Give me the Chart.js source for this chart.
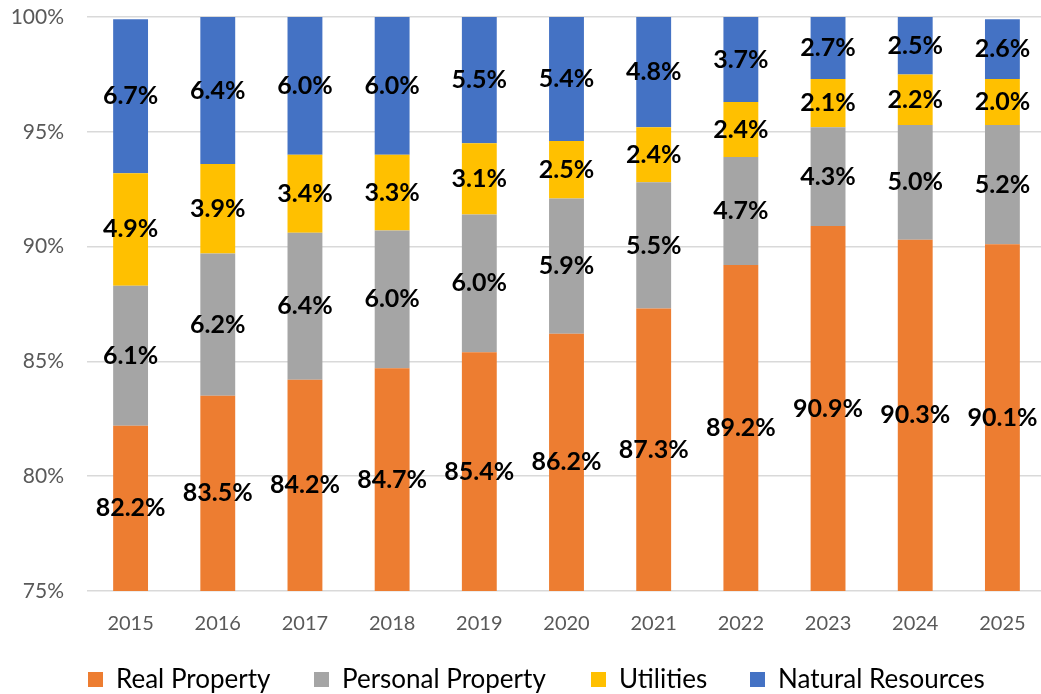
<!DOCTYPE html>
<html>
<head>
<meta charset="utf-8">
<script src="https://cdn.jsdelivr.net/npm/chart.js@4/dist/chart.umd.min.js"></script>
<style>
  html, body { margin: 0; padding: 0; background: #fff; overflow: hidden; }
  #wrap { width: 1050px; height: 694px; }
</style>
</head>
<body>
<div id="wrap"><canvas id="chart" width="1050" height="694"></canvas></div>
<script>
const years = ['2015', '2016', '2017', '2018', '2019', '2020', '2021', '2022', '2023', '2024', '2025'];
const realProperty = [82.2, 83.5, 84.2, 84.7, 85.4, 86.2, 87.3, 89.2, 90.9, 90.3, 90.1];
const personalProperty = [6.1, 6.2, 6.4, 6.0, 6.0, 5.9, 5.5, 4.7, 4.3, 5.0, 5.2];
const utilities = [4.9, 3.9, 3.4, 3.3, 3.1, 2.5, 2.4, 2.4, 2.1, 2.2, 2.0];
const naturalResources = [6.7, 6.4, 6.0, 6.0, 5.5, 5.4, 4.8, 3.7, 2.7, 2.5, 2.6];
const yTicks = [75, 80, 85, 90, 95, 100];

const FONT = 'Lato, "Open Sans", sans-serif';

// values drawn in the middle of the visible part of each segment
const barLabels = {
  id: 'barLabels',
  afterDatasetsDraw(chart) {
    const { ctx, chartArea } = chart;
    ctx.save();
    ctx.font = 'bold 25px ' + FONT;
    ctx.fillStyle = '#000';
    ctx.textAlign = 'center';
    ctx.textBaseline = 'middle';
    chart.data.datasets.forEach((ds, i) => {
      const meta = chart.getDatasetMeta(i);
      meta.data.forEach((bar, j) => {
        const { x, y, base } = bar.getProps(['x', 'y', 'base'], true);
        const top = Math.max(Math.min(y, base), chartArea.top);
        const bottom = Math.min(Math.max(y, base), chartArea.bottom);
        ctx.fillText(ds.data[j].toFixed(1) + '%', x, (top + bottom) / 2);
      });
    });
    ctx.restore();
  }
};

// legend row along the bottom, laid out like the original
const bottomLegend = {
  id: 'bottomLegend',
  afterDraw(chart) {
    const { ctx } = chart;
    const xs = [88, 314, 591, 750];
    const cy = 679.5;
    ctx.save();
    ctx.font = '26px ' + FONT;
    ctx.textBaseline = 'middle';
    chart.data.datasets.forEach((ds, i) => {
      ctx.fillStyle = ds.backgroundColor;
      ctx.fillRect(xs[i], cy - 7.5, 15, 15);
      ctx.fillStyle = '#000';
      ctx.fillText(ds.label, xs[i] + 28, cy);
    });
    ctx.restore();
  }
};

new Chart(document.getElementById('chart'), {
  type: 'bar',
  data: {
    labels: years,
    datasets: [
      { label: 'Real Property', data: realProperty, backgroundColor: '#ED7D31' },
      { label: 'Personal Property', data: personalProperty, backgroundColor: '#A5A5A5' },
      { label: 'Utilities', data: utilities, backgroundColor: '#FFC000' },
      { label: 'Natural Resources', data: naturalResources, backgroundColor: '#4472C4' }
    ]
  },
  options: {
    responsive: false,
    animation: false,
    layout: { padding: { left: 0, right: 4, top: 0, bottom: 37 } },
    datasets: { bar: { categoryPercentage: 1, barPercentage: 0.4 } },
    scales: {
      x: {
        stacked: true,
        grid: { display: false, drawTicks: false },
        border: { display: false },
        ticks: { color: '#595959', font: { family: FONT, size: 20 }, padding: 21 }
      },
      y: {
        stacked: true,
        min: 75,
        max: 100,
        afterFit(scale) {
          scale.width = 87;
          scale.paddingTop = 17;
          scale.paddingBottom = 0;
        },
        afterBuildTicks(scale) { scale.ticks = yTicks.map(v => ({ value: v })); },
        grid: { color: '#D9D9D9', lineWidth: 1.5, drawTicks: false },
        border: { display: false },
        ticks: {
          color: '#595959',
          font: { family: FONT, size: 21 },
          padding: 23,
          callback: v => v + '%'
        }
      }
    },
    plugins: {
      legend: { display: false },
      tooltip: { enabled: false }
    }
  },
  plugins: [barLabels, bottomLegend]
});
</script>
</body>
</html>
